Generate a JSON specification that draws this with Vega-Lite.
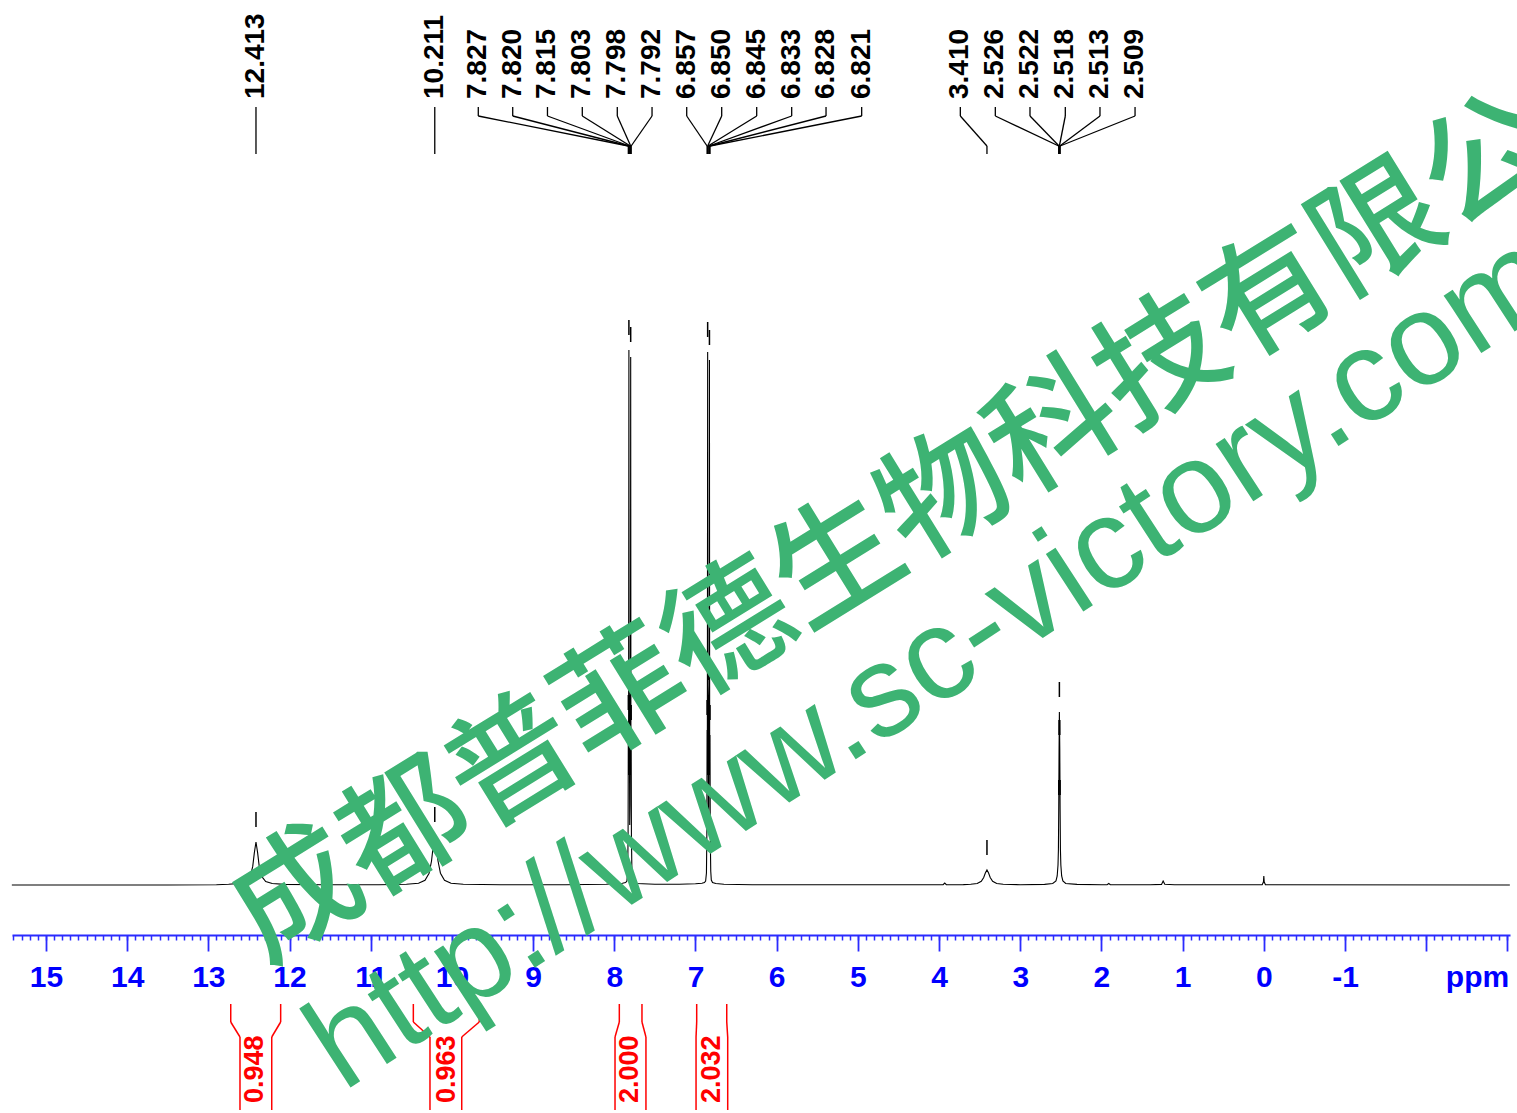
{
  "$schema": "https://vega.github.io/schema/vega-lite/v6.json",
  "width": 1498,
  "height": 1113,
  "autosize": {"type": "none"},
  "padding": {"left": 12, "right": 7, "top": 0, "bottom": 0},
  "background": "white",
  "config": {"view": {"stroke": null}, "font": "Liberation Sans"},
  "datasets": {
    "spectrum": [
      {"ppm": 15.42, "intensity": 0}, {"ppm": 13.5, "intensity": 0}, {"ppm": 12.9, "intensity": 0.3},
      {"ppm": 12.75, "intensity": 0.8}, {"ppm": 12.61, "intensity": 1.6}, {"ppm": 12.533, "intensity": 3.4},
      {"ppm": 12.483, "intensity": 8.6}, {"ppm": 12.453, "intensity": 18.6}, {"ppm": 12.433, "intensity": 32.4},
      {"ppm": 12.413, "intensity": 43}, {"ppm": 12.393, "intensity": 32.4}, {"ppm": 12.373, "intensity": 18.6},
      {"ppm": 12.343, "intensity": 8.6}, {"ppm": 12.293, "intensity": 3.4}, {"ppm": 12.213, "intensity": 1.5},
      {"ppm": 12.06, "intensity": 0.6}, {"ppm": 11.6, "intensity": 0.2}, {"ppm": 10.9, "intensity": 0.3},
      {"ppm": 10.56, "intensity": 0.8}, {"ppm": 10.411, "intensity": 1.8}, {"ppm": 10.331, "intensity": 4.8},
      {"ppm": 10.281, "intensity": 11.8}, {"ppm": 10.251, "intensity": 24}, {"ppm": 10.231, "intensity": 38.4},
      {"ppm": 10.211, "intensity": 48}, {"ppm": 10.191, "intensity": 38.4}, {"ppm": 10.171, "intensity": 24},
      {"ppm": 10.141, "intensity": 11.8}, {"ppm": 10.091, "intensity": 4.8}, {"ppm": 10.011, "intensity": 1.8},
      {"ppm": 9.86, "intensity": 0.8}, {"ppm": 9.4, "intensity": 0.3}, {"ppm": 8.6, "intensity": 0.3},
      {"ppm": 8.1, "intensity": 0.8}, {"ppm": 7.95, "intensity": 1.5}, {"ppm": 7.9, "intensity": 1.8},
      {"ppm": 7.86, "intensity": 2.5}, {"ppm": 7.845, "intensity": 4}, {"ppm": 7.835, "intensity": 12},
      {"ppm": 7.83, "intensity": 50}, {"ppm": 7.827, "intensity": 160}, {"ppm": 7.824, "intensity": 110},
      {"ppm": 7.82, "intensity": 535}, {"ppm": 7.817, "intensity": 170}, {"ppm": 7.815, "intensity": 190},
      {"ppm": 7.81, "intensity": 60}, {"ppm": 7.806, "intensity": 80}, {"ppm": 7.803, "intensity": 190},
      {"ppm": 7.8, "intensity": 200}, {"ppm": 7.798, "intensity": 528}, {"ppm": 7.795, "intensity": 110},
      {"ppm": 7.792, "intensity": 150}, {"ppm": 7.789, "intensity": 50}, {"ppm": 7.783, "intensity": 14},
      {"ppm": 7.775, "intensity": 5}, {"ppm": 7.76, "intensity": 2.5}, {"ppm": 7.72, "intensity": 1.5},
      {"ppm": 7.65, "intensity": 1.2}, {"ppm": 7.5, "intensity": 0.8}, {"ppm": 7.2, "intensity": 0.8},
      {"ppm": 7.0, "intensity": 1.2}, {"ppm": 6.92, "intensity": 1.8}, {"ppm": 6.89, "intensity": 2.5},
      {"ppm": 6.875, "intensity": 4}, {"ppm": 6.865, "intensity": 12}, {"ppm": 6.86, "intensity": 50},
      {"ppm": 6.857, "intensity": 155}, {"ppm": 6.854, "intensity": 110}, {"ppm": 6.85, "intensity": 533},
      {"ppm": 6.847, "intensity": 170}, {"ppm": 6.845, "intensity": 190}, {"ppm": 6.84, "intensity": 60},
      {"ppm": 6.836, "intensity": 80}, {"ppm": 6.833, "intensity": 190}, {"ppm": 6.83, "intensity": 200},
      {"ppm": 6.828, "intensity": 525}, {"ppm": 6.825, "intensity": 110}, {"ppm": 6.821, "intensity": 150},
      {"ppm": 6.818, "intensity": 50}, {"ppm": 6.812, "intensity": 14}, {"ppm": 6.805, "intensity": 5},
      {"ppm": 6.79, "intensity": 2.5}, {"ppm": 6.75, "intensity": 1.5}, {"ppm": 6.65, "intensity": 0.8},
      {"ppm": 6.3, "intensity": 0.3}, {"ppm": 5.5, "intensity": 0.2}, {"ppm": 4.5, "intensity": 0.3},
      {"ppm": 3.95, "intensity": 0.3}, {"ppm": 3.93, "intensity": 2}, {"ppm": 3.91, "intensity": 0.3},
      {"ppm": 3.7, "intensity": 0.4}, {"ppm": 3.61, "intensity": 0.7}, {"ppm": 3.53, "intensity": 1.5},
      {"ppm": 3.48, "intensity": 3.7}, {"ppm": 3.45, "intensity": 7.5}, {"ppm": 3.43, "intensity": 12},
      {"ppm": 3.41, "intensity": 15}, {"ppm": 3.39, "intensity": 12}, {"ppm": 3.37, "intensity": 7.5},
      {"ppm": 3.34, "intensity": 3.7}, {"ppm": 3.29, "intensity": 1.5}, {"ppm": 3.21, "intensity": 0.7},
      {"ppm": 3.0, "intensity": 0.3}, {"ppm": 2.7, "intensity": 0.6}, {"ppm": 2.6, "intensity": 1.5},
      {"ppm": 2.56, "intensity": 4}, {"ppm": 2.545, "intensity": 9}, {"ppm": 2.535, "intensity": 20},
      {"ppm": 2.53, "intensity": 35}, {"ppm": 2.526, "intensity": 75}, {"ppm": 2.522, "intensity": 135},
      {"ppm": 2.518, "intensity": 173}, {"ppm": 2.513, "intensity": 135}, {"ppm": 2.509, "intensity": 75},
      {"ppm": 2.505, "intensity": 35}, {"ppm": 2.5, "intensity": 20}, {"ppm": 2.49, "intensity": 9},
      {"ppm": 2.475, "intensity": 4}, {"ppm": 2.44, "intensity": 1.5}, {"ppm": 2.3, "intensity": 0.6},
      {"ppm": 2.0, "intensity": 0.3}, {"ppm": 1.93, "intensity": 0.3}, {"ppm": 1.91, "intensity": 1.5},
      {"ppm": 1.89, "intensity": 0.3}, {"ppm": 1.4, "intensity": 0.3}, {"ppm": 1.26, "intensity": 0.6},
      {"ppm": 1.24, "intensity": 4}, {"ppm": 1.22, "intensity": 0.8}, {"ppm": 1.1, "intensity": 0.3},
      {"ppm": 0.02, "intensity": 0.3}, {"ppm": 0.005, "intensity": 3}, {"ppm": 0.0, "intensity": 9},
      {"ppm": -0.005, "intensity": 3}, {"ppm": -0.02, "intensity": 0.3}, {"ppm": -3.03, "intensity": 0}
    ],
    "peaks": [
      {"label": "12.413", "shift": 12.413, "pos": 12.413, "height": 43},
      {"label": "10.211", "shift": 10.211, "pos": 10.211, "height": 48},
      {"label": "7.827", "shift": 7.827, "pos": 9.675, "height": 160},
      {"label": "7.820", "shift": 7.82, "pos": 9.251, "height": 535},
      {"label": "7.815", "shift": 7.815, "pos": 8.823, "height": 190},
      {"label": "7.803", "shift": 7.803, "pos": 8.394, "height": 190},
      {"label": "7.798", "shift": 7.798, "pos": 7.963, "height": 528},
      {"label": "7.792", "shift": 7.792, "pos": 7.535, "height": 150},
      {"label": "6.857", "shift": 6.857, "pos": 7.108, "height": 155},
      {"label": "6.850", "shift": 6.85, "pos": 6.677, "height": 533},
      {"label": "6.845", "shift": 6.845, "pos": 6.246, "height": 190},
      {"label": "6.833", "shift": 6.833, "pos": 5.815, "height": 190},
      {"label": "6.828", "shift": 6.828, "pos": 5.392, "height": 525},
      {"label": "6.821", "shift": 6.821, "pos": 4.953, "height": 150},
      {"label": "3.410", "shift": 3.41, "pos": 3.738, "height": 15},
      {"label": "2.526", "shift": 2.526, "pos": 3.307, "height": 75},
      {"label": "2.522", "shift": 2.522, "pos": 2.88, "height": 135},
      {"label": "2.518", "shift": 2.518, "pos": 2.445, "height": 173},
      {"label": "2.513", "shift": 2.513, "pos": 2.018, "height": 135},
      {"label": "2.509", "shift": 2.509, "pos": 1.586, "height": 75}
    ],
    "integrals": [
      {"label": "0.948", "from": 12.724, "to": 12.109, "inFrom": 12.61, "inTo": 12.219, "mid": 12.425},
      {"label": "0.963", "from": 10.475, "to": 9.663, "inFrom": 10.27, "inTo": 9.879, "mid": 10.064},
      {"label": "2.000", "from": 7.938, "to": 7.659, "inFrom": 7.991, "inTo": 7.61, "mid": 7.81},
      {"label": "2.032", "from": 6.985, "to": 6.615, "inFrom": 6.993, "inTo": 6.603, "mid": 6.8}
    ]
  },
  "layer": [
    {
      "data": {"name": "spectrum"},
      "mark": {"type": "line", "color": "black", "strokeWidth": 1.1},
      "encoding": {
        "x": {"field": "ppm", "type": "quantitative",
              "scale": {"domain": [-3.032, 15.418], "reverse": true, "nice": false, "zero": false},
              "axis": {"orient": "bottom", "offset": -178, "tickCount": 185, "domain": false, "labels": false,
                       "ticks": true, "tickColor": "#2b2bff", "tickSize": 5, "tickWidth": 1.5, "grid": false, "title": null}},
        "y": {"field": "intensity", "type": "quantitative",
              "scale": {"domain": [-228, 885], "nice": false, "zero": false}, "axis": null}
      }
    },
    {
      "data": {"name": "peaks"},
      "mark": {"type": "text", "angle": 270, "align": "left", "baseline": "middle", "fontSize": 28, "fontWeight": "bold", "font": "Liberation Sans", "color": "black"},
      "encoding": {
        "x": {"field": "pos", "type": "quantitative",
              "axis": {"orient": "bottom", "offset": -178, "values": [-3, -2, -1, 0, 1, 2, 3, 4, 5, 6, 7, 8, 9, 10, 11, 12, 13, 14, 15],
                       "labelExpr": "datum.value < -1.5 ? '' : (datum.value < 0 ? '-' + abs(datum.value) : '' + datum.value)",
                       "domain": true, "domainColor": "#2b2bff", "domainWidth": 2,
                       "ticks": true, "tickColor": "#2b2bff", "tickSize": 16, "tickWidth": 1.8,
                       "labelColor": "#0000ff", "labelFont": "Liberation Sans", "labelFontSize": 30, "labelFontWeight": "bold",
                       "labelPadding": 35, "labelBaseline": "alphabetic", "labelFlush": false, "labelOverlap": false,
                       "grid": false, "title": null}},
        "y": {"datum": 786, "type": "quantitative", "axis": null},
        "text": {"field": "label"}
      }
    },
    {
      "data": {"name": "peaks"},
      "mark": {"type": "rule", "color": "black", "strokeWidth": 1.3},
      "encoding": {
        "x": {"field": "pos", "type": "quantitative", "axis": null},
        "y": {"datum": 778, "type": "quantitative", "axis": null},
        "y2": {"datum": 769}
      }
    },
    {
      "data": {"name": "peaks"},
      "mark": {"type": "rule", "color": "black", "strokeWidth": 1.3},
      "encoding": {
        "x": {"field": "pos", "type": "quantitative", "axis": null},
        "x2": {"field": "shift"},
        "y": {"datum": 769, "type": "quantitative", "axis": null},
        "y2": {"datum": 739}
      }
    },
    {
      "data": {"name": "peaks"},
      "mark": {"type": "rule", "color": "black", "strokeWidth": 1.3},
      "encoding": {
        "x": {"field": "shift", "type": "quantitative", "axis": null},
        "y": {"datum": 739, "type": "quantitative", "axis": null},
        "y2": {"datum": 731}
      }
    },
    {
      "data": {"name": "peaks"},
      "mark": {"type": "rule", "color": "black", "strokeWidth": 1.5, "yOffset": -30, "y2Offset": -15},
      "encoding": {
        "x": {"field": "shift", "type": "quantitative", "axis": null},
        "y": {"field": "height", "type": "quantitative", "axis": null},
        "y2": {"field": "height"}
      }
    },
    {
      "data": {"name": "integrals"},
      "mark": {"type": "rule", "color": "#ff0000", "strokeWidth": 1.5},
      "encoding": {
        "x": {"field": "from", "type": "quantitative", "axis": null},
        "y": {"datum": -119, "type": "quantitative", "axis": null},
        "y2": {"datum": -137}
      }
    },
    {
      "data": {"name": "integrals"},
      "mark": {"type": "rule", "color": "#ff0000", "strokeWidth": 1.5},
      "encoding": {
        "x": {"field": "from", "type": "quantitative", "axis": null},
        "x2": {"field": "inFrom"},
        "y": {"datum": -137, "type": "quantitative", "axis": null},
        "y2": {"datum": -152}
      }
    },
    {
      "data": {"name": "integrals"},
      "mark": {"type": "rule", "color": "#ff0000", "strokeWidth": 1.5},
      "encoding": {
        "x": {"field": "inFrom", "type": "quantitative", "axis": null},
        "y": {"datum": -152, "type": "quantitative", "axis": null},
        "y2": {"datum": -225}
      }
    },
    {
      "data": {"name": "integrals"},
      "mark": {"type": "rule", "color": "#ff0000", "strokeWidth": 1.5},
      "encoding": {
        "x": {"field": "to", "type": "quantitative", "axis": null},
        "y": {"datum": -119, "type": "quantitative", "axis": null},
        "y2": {"datum": -137}
      }
    },
    {
      "data": {"name": "integrals"},
      "mark": {"type": "rule", "color": "#ff0000", "strokeWidth": 1.5},
      "encoding": {
        "x": {"field": "to", "type": "quantitative", "axis": null},
        "x2": {"field": "inTo"},
        "y": {"datum": -137, "type": "quantitative", "axis": null},
        "y2": {"datum": -152}
      }
    },
    {
      "data": {"name": "integrals"},
      "mark": {"type": "rule", "color": "#ff0000", "strokeWidth": 1.5},
      "encoding": {
        "x": {"field": "inTo", "type": "quantitative", "axis": null},
        "y": {"datum": -152, "type": "quantitative", "axis": null},
        "y2": {"datum": -225}
      }
    },
    {
      "data": {"name": "integrals"},
      "mark": {"type": "text", "angle": 270, "align": "left", "baseline": "middle", "fontSize": 27, "fontWeight": "bold", "font": "Liberation Sans", "color": "#ff0000"},
      "encoding": {
        "x": {"field": "mid", "type": "quantitative", "axis": null},
        "y": {"datum": -218, "type": "quantitative", "axis": null},
        "text": {"field": "label"}
      }
    },
    {
      "data": {"values": [{}]},
      "mark": {"type": "text", "text": "ppm", "align": "center", "baseline": "alphabetic", "fontSize": 30, "fontWeight": "bold", "font": "Liberation Sans", "color": "#0000ff"},
      "encoding": {
        "x": {"datum": -2.632, "type": "quantitative", "axis": null},
        "y": {"datum": -102, "type": "quantitative", "axis": null}
      }
    },
    {
      "data": {"values": [{}]},
      "mark": {"type": "text", "text": "成都普菲德生物科技有限公司", "align": "center", "baseline": "middle", "angle": 328.3, "fontSize": 127, "fontWeight": 500, "font": "Noto Sans CJK SC", "color": "#3db373"},
      "encoding": {
        "x": {"datum": 3.9, "type": "quantitative", "axis": null},
        "y": {"datum": 387, "type": "quantitative", "axis": null}
      }
    },
    {
      "data": {"values": [{}]},
      "mark": {"type": "text", "text": "http://www.sc-victory.com", "align": "center", "baseline": "middle", "angle": 327, "fontSize": 130, "font": "Liberation Sans", "color": "#3db373"},
      "encoding": {
        "x": {"datum": 4.08, "type": "quantitative", "axis": null},
        "y": {"datum": 222, "type": "quantitative", "axis": null}
      }
    }
  ],
  "resolve": {"axis": {"x": "independent"}}
}
